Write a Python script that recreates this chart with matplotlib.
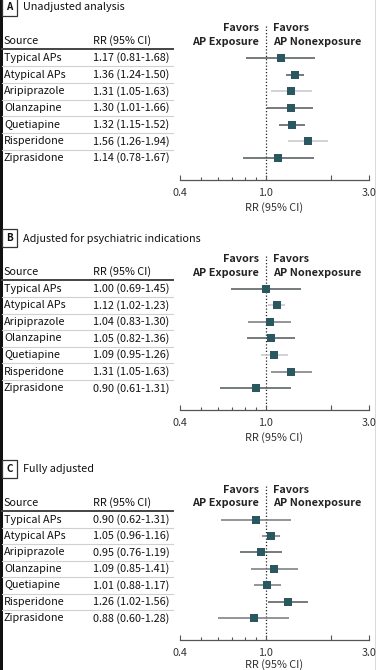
import numpy as np
import matplotlib
matplotlib.use('Agg')
import matplotlib.pyplot as plt
import matplotlib.transforms as mtransforms
from matplotlib.patches import Rectangle
from matplotlib.lines import Line2D

plt.rcParams['font.family'] = ['Noto Sans CJK SC', 'DejaVu Sans']

sources = ['Typical APs', 'Atypical APs', 'Aripiprazole', 'Olanzapine',
           'Quetiapine', 'Risperidone', 'Ziprasidone']

titles = ['Unadjusted analysis', 'Adjusted for psychiatric indications', 'Fully adjusted']
letters = ['A', 'B', 'C']

rr_a = [1.17, 1.36, 1.31, 1.30, 1.32, 1.56, 1.14]
lo_a = [0.81, 1.24, 1.05, 1.01, 1.15, 1.26, 0.78]
hi_a = [1.68, 1.50, 1.63, 1.66, 1.52, 1.94, 1.67]

rr_b = [1.00, 1.12, 1.04, 1.05, 1.09, 1.31, 0.90]
lo_b = [0.69, 1.02, 0.83, 0.82, 0.95, 1.05, 0.61]
hi_b = [1.45, 1.23, 1.30, 1.36, 1.26, 1.63, 1.31]

rr_c = [0.90, 1.05, 0.95, 1.09, 1.01, 1.26, 0.88]
lo_c = [0.62, 0.96, 0.76, 0.85, 0.88, 1.02, 0.60]
hi_c = [1.31, 1.16, 1.19, 1.41, 1.17, 1.56, 1.28]

panels = [(rr_a, lo_a, hi_a), (rr_b, lo_b, hi_b), (rr_c, lo_c, hi_c)]

# line shades as they look in the original
dark, mid, light = '#4f5659', '#74797b', '#c6c8c9'
line_cols = [[dark, dark, light, dark, dark, light, dark],
             [dark, light, mid, dark, light, mid, dark],
             [mid, mid, dark, mid, mid, dark, mid]]

W, H = 376, 670
fig = plt.figure(figsize=(W / 100, H / 100), dpi=100)

txt = '#111111'
mark = '#2b5761'
fs = 7.8

# pixel layout of each panel: top of plot area, axis line
tops = [24, 255, 486]
axis_y = [180, 410, 640]
x0, x1 = 180, 369
xlab_pad = [3, 3, 1.2]   # last one squeezed so it stays inside the image

for i, (rr, lo, hi) in enumerate(panels):
    ax = fig.add_axes([x0 / W, 1 - axis_y[i] / H, (x1 - x0) / W, (axis_y[i] - tops[i]) / H])
    ax.set_xscale('log')
    ax.set_xlim(0.4, 3.0)
    ax.set_ylim(7.32, -2.04)
    ypos = np.arange(len(sources))

    for j in range(len(sources)):
        ax.plot([lo[j], hi[j]], [ypos[j], ypos[j]], color=line_cols[i][j], lw=1.1,
                solid_capstyle='butt', zorder=2)
    ax.plot(rr, ypos, 's', color=mark, markersize=5.2, markeredgewidth=0, zorder=3)
    ax.axvline(1.0, color='#222222', lw=0.9, ls=(0, (1, 1.6)), zorder=1)

    for s in ['top', 'right', 'left']:
        ax.spines[s].set_visible(False)
    ax.spines['bottom'].set_color('#555555')
    ax.spines['bottom'].set_linewidth(0.9)
    ax.set_yticks([])
    ax.set_xticks([0.4, 1.0, 2.0, 3.0])
    ax.set_xticklabels(['0.4', '1.0', '', '3.0'])
    ax.set_xticks([0.5, 0.6, 0.7, 0.8, 0.9], minor=True)
    ax.xaxis.set_minor_formatter(matplotlib.ticker.NullFormatter())
    ax.tick_params(axis='x', which='major', direction='in', length=3.5, width=0.8,
                   color='#555555', labelsize=fs, labelcolor='#333333', pad=5.5)
    ax.tick_params(axis='x', which='minor', direction='in', length=2.5, width=0.8,
                   color='#555555')
    ax.set_xlabel('RR (95% CI)', fontsize=fs, color='#333333', labelpad=xlab_pad[i])
    ax.patch.set_alpha(0)

    # favors header
    for lab, yy in [('Favors', -1.8), ('AP Exposure', -0.98)]:
        ax.annotate(lab, xy=(1.0, yy), xytext=(-7, 0), textcoords='offset pixels',
                    ha='right', va='center', fontsize=fs, fontweight='bold', color='#222222')
    for lab, yy in [('Favors', -1.8), ('AP Nonexposure', -0.98)]:
        ax.annotate(lab, xy=(1.0, yy), xytext=(7, 0), textcoords='offset pixels',
                    ha='left', va='center', fontsize=fs, fontweight='bold', color='#222222')

    # table on the left
    tr = mtransforms.blended_transform_factory(fig.transFigure, ax.transData)
    fig.text(4 / W, -1.02, 'Source', transform=tr, fontsize=fs, color=txt, va='center',
             fontweight='medium')
    fig.text(93 / W, -1.02, 'RR (95% CI)', transform=tr, fontsize=fs, color=txt, va='center',
             fontweight='medium')
    fig.add_artist(Line2D([2 / W, 173 / W], [-0.52, -0.52], transform=tr,
                          color='#444444', lw=1.4))
    for j in range(len(sources)):
        fig.text(4 / W, ypos[j], sources[j], transform=tr, fontsize=fs, color=txt, va='center')
        fig.text(93 / W, ypos[j], '%.2f (%.2f-%.2f)' % (rr[j], lo[j], hi[j]),
                 transform=tr, fontsize=fs, color=txt, va='center')
        if j < len(sources) - 1:
            fig.add_artist(Line2D([2 / W, 173 / W], [ypos[j] + 0.5, ypos[j] + 0.5],
                                  transform=tr, color='#d0d0d0', lw=0.8))

    # panel letter and title
    fig.text(9.5 / W, -3.05, letters[i], transform=tr, fontsize=fs - 0.7, fontweight='bold',
             color=txt, ha='center', va='center',
             bbox=dict(boxstyle='square,pad=0.4', fc='white', ec='#333333', lw=0.9))
    fig.text(23 / W, -3.05, titles[i], transform=tr, fontsize=fs, color=txt, va='center')

# dark frame edges of the scan
fig.add_artist(Rectangle((0, 0), 2.5 / W, 1, transform=fig.transFigure,
                         color='#111111', lw=0))
fig.add_artist(Line2D([375.5 / W, 375.5 / W], [0, 1], transform=fig.transFigure,
                      color='#444444', lw=1))

fig.savefig('out.png', dpi=100)
